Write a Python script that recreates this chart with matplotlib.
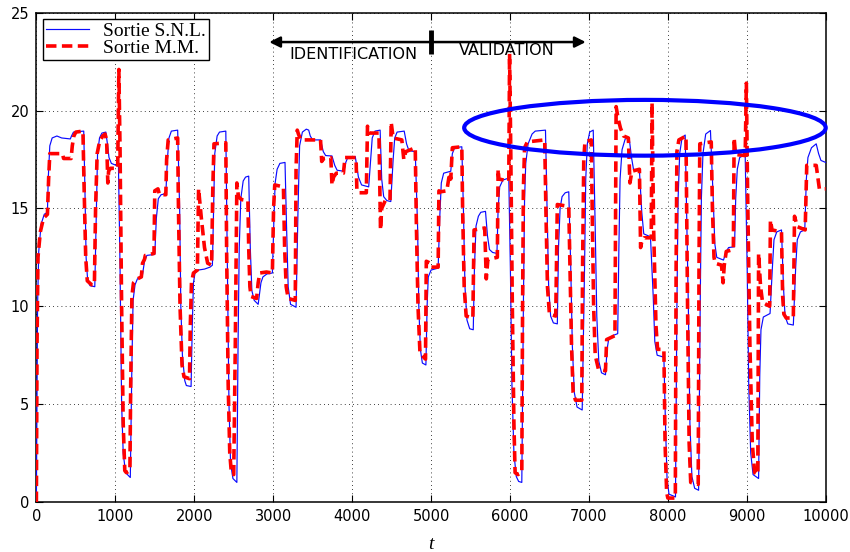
import matplotlib
matplotlib.use("Agg")
import matplotlib.pyplot as plt
from matplotlib.patches import Ellipse

# ---- data ----
snl_t = [0, 15, 30, 60, 100, 140, 150, 170, 200, 260, 320, 430, 445, 470, 600,
         615, 630, 650, 680, 740, 760, 775, 800, 830, 880, 900, 920, 950, 1040,
         1060, 1080, 1100, 1130, 1190, 1210, 1225, 1250, 1280, 1340, 1370, 1400, 1500,
         1520, 1545, 1580, 1640, 1660, 1680, 1710, 1790, 1815, 1830, 1850, 1880, 1900, 1960,
         1975, 1990, 2010, 2050, 2130, 2200, 2230, 2245, 2260, 2290, 2320, 2400,
         2420, 2440, 2460, 2490, 2540, 2555, 2570, 2590, 2620, 2650, 2690,
         2710, 2730, 2760, 2810, 2845, 2870, 2920, 2990, 3010, 3025, 3050, 3085, 3150,
         3170, 3190, 3220, 3290, 3315, 3335, 3370, 3420, 3450, 3470, 3500, 3600,
         3635, 3665, 3745, 3780, 3810, 3895, 3920, 3945, 4040, 4080, 4120, 4210,
         4235, 4255, 4290, 4355, 4375, 4400, 4440, 4490, 4520, 4540, 4570, 4660,
         4690, 4720, 4800, 4830, 4845, 4865, 4890, 4935, 4950, 4965, 5000, 5090,
         5110, 5130, 5160, 5250, 5270, 5300, 5390, 5410, 5430, 5455, 5490, 5535,
         5550, 5570, 5600, 5630, 5690, 5715, 5740, 5780, 5835, 5850, 5870, 5910, 5985,
         6005, 6025, 6050, 6080, 6110, 6150, 6170, 6185, 6200, 6230, 6280, 6320, 6450,
         6470, 6490, 6515, 6550, 6600, 6615, 6635, 6660, 6700, 6745,
         6770, 6790, 6815, 6850, 6915, 6945, 6960, 6980, 7010, 7055,
         7080, 7100, 7125, 7160, 7210, 7230, 7250, 7300, 7365,
         7380, 7395, 7420, 7460, 7510, 7540, 7565, 7640, 7670, 7695, 7780,
         7815, 7835, 7865, 7950, 7970, 7990, 8015, 8097, 8115, 8130, 8150, 8180, 8220,
         8260, 8280, 8305, 8340, 8390, 8410, 8425, 8445, 8480, 8540,
         8575, 8595, 8620, 8705, 8740, 8770, 8845, 8860, 8880, 8910, 8980,
         9005, 9025, 9050, 9080, 9150, 9165, 9180, 9210, 9295, 9325, 9345, 9380, 9440,
         9465, 9485, 9520, 9590, 9620, 9640, 9680, 9735, 9755, 9775, 9820, 9880,
         9910, 9940, 10000]
snl_y = [0, 10, 12.8, 14.2, 14.7, 14.8, 16.5, 18.2, 18.6, 18.7, 18.6, 18.55, 18.7, 18.9, 18.95,
         16, 12.5, 11.3, 11.05, 11.0, 15, 17.8, 18.6, 18.85, 18.9, 18.3, 17.6, 17.3, 17.15,
         12, 5, 2.5, 1.5, 1.25, 7, 10.3, 11.1, 11.4, 11.5, 12.3, 12.6, 12.65,
         14.5, 15.5, 15.7, 15.75, 17.5, 18.6, 18.95, 19.0, 15, 10, 7.5, 6.2, 5.95, 5.9,
         9, 11.2, 11.7, 11.85, 11.9, 12.0, 12.1, 15, 17.8, 18.7, 18.9, 18.95,
         12, 5, 2, 1.2, 1.0, 8, 13, 15.5, 16.4, 16.6, 16.65,
         13, 10.8, 10.3, 10.1, 11.2, 11.5, 11.65, 11.7, 14.5, 16.3, 17.0, 17.3, 17.35,
         14, 11, 10.1, 9.95, 15, 18.2, 18.9, 19.05, 19.0, 18.7, 18.5, 18.5,
         17.9, 17.7, 17.68, 17.2, 16.95, 16.9, 17.35, 17.6, 17.65, 16.6, 16.2, 16.1,
         17.5, 18.6, 18.95, 19.0, 16.5, 15.6, 15.4, 15.35, 17.5, 18.6, 18.9, 18.95,
         18.3, 17.95, 17.9, 14, 10, 7.8, 7.1, 7.0, 10, 11.5, 11.85, 11.95,
         14.5, 16.3, 16.8, 16.9, 17.8, 18.1, 18.15, 15, 11, 9.3, 8.85, 8.8,
         12, 14.1, 14.6, 14.8, 14.85, 13.6, 12.9, 12.75, 12.7, 15, 16.1, 16.45, 16.55,
         12, 6, 2.5, 1.3, 1.05, 1.0, 10, 15.5, 17.3, 18.3, 18.8, 18.95, 19.0,
         15, 11, 9.5, 9.15, 9.1, 13, 15.0, 15.6, 15.8, 15.85,
         12, 8, 5.6, 4.85, 4.7, 12, 16.5, 18.3, 18.9, 19.0,
         14, 9.5, 7.2, 6.6, 6.5, 7.8, 8.3, 8.5, 8.6,
         13, 16.5, 18.0, 18.55, 18.6, 17.6, 17.0, 16.95, 14.8, 13.7, 13.55,
         10.5, 8.2, 7.5, 7.4, 4, 1.2, 0.4, 0.26, 10, 15.5, 17.8, 18.6, 18.75,
         10, 4, 1.3, 0.7, 0.6, 10, 15.5, 17.8, 18.8, 18.98,
         15.5, 13.2, 12.5, 12.36, 12.8, 13.0, 13.04, 15.5, 17.0, 17.6, 17.75,
         12, 6, 2.5, 1.4, 1.2, 6.5, 8.8, 9.45, 9.63, 12.0, 13.4, 13.8, 13.9,
         11.0, 9.5, 9.1, 9.04, 12.0, 13.4, 13.8, 13.9, 16.5, 17.6, 18.1, 18.3,
         17.8, 17.45, 17.35]

mm_t = [0, 8, 20, 50, 90, 140, 155, 170, 250, 330, 345, 440, 455, 475, 500, 590,
        605, 625, 645, 700, 735, 750, 770, 800, 840, 870, 890, 905, 915, 940, 1030,
        1045, 1060, 1080, 1100, 1120, 1140, 1185, 1195, 1210, 1230, 1280, 1330,
        1345, 1370, 1380, 1490, 1500, 1540, 1560, 1640, 1650, 1670, 1790,
        1800, 1820, 1845, 1870, 1940, 1950, 1965, 1990, 2040,
        2055, 2090, 2130, 2170, 2220, 2235, 2250, 2400,
        2410, 2430, 2450, 2470, 2500, 2520, 2540, 2560, 2600, 2680,
        2690, 2705, 2720, 2790, 2810, 2830, 2915, 2990, 3005, 3020, 3130,
        3145, 3165, 3190, 3280, 3290, 3305, 3320, 3350, 3600,
        3615, 3640, 3730, 3745, 3765, 3800, 3890, 3910, 4050, 4060, 4080, 4180,
        4195, 4215, 4340, 4360, 4375, 4420, 4480, 4495, 4520, 4630,
        4655, 4680, 4800, 4815, 4835, 4860, 4930, 4940, 4990, 5000, 5090,
        5100, 5120, 5200, 5235, 5250, 5270, 5390, 5400, 5420, 5445, 5530,
        5545, 5680, 5700, 5720, 5840, 5850, 5860, 5985,
        5995, 6010, 6030, 6050, 6065, 6100, 6150, 6160, 6170, 6185, 6220, 6440,
        6455, 6475, 6500, 6580, 6600, 6745, 6760, 6780, 6800, 6830, 6910,
        6920, 6935, 6950, 7030, 7045, 7060, 7080, 7120, 7210, 7225, 7330,
        7345, 7370, 7400, 7440, 7500, 7520, 7545, 7640, 7655, 7670, 7700, 7790,
        7800, 7820, 7850, 7870, 7950, 7965, 7985, 8000, 8095, 8105, 8115, 8140, 8230,
        8250, 8270, 8290, 8385, 8395, 8405, 8550, 8565, 8585, 8600, 8680, 8700, 8715,
        8740, 8830, 8840, 8855, 8870, 8980, 8995, 9010, 9040, 9070, 9100, 9140,
        9150, 9175, 9200, 9290, 9300, 9320, 9440, 9455, 9470, 9500, 9590,
        9605, 9640, 9740, 9760, 9775, 9880, 9920, 9940, 10000]
mm_y = [0, 8, 12.5, 13.8, 14.5, 14.7, 16.5, 17.8, 17.8, 17.8, 17.55, 17.55, 18.2, 18.7, 18.9, 18.95,
        16, 12.5, 11.3, 11.1, 11.1, 15, 17.8, 18.4, 18.7, 18.8, 18.5, 16.3, 16.9, 17.05, 17.05,
        22.1, 18, 10, 4, 1.6, 1.5, 1.6, 6, 10.5, 11.2, 11.4, 11.5,
        12.2, 12.4, 12.6, 12.7, 15.9, 16.0, 15.7, 15.7, 17.5, 18.5, 18.6,
        15, 10, 7, 6.4, 6.3, 9, 11.2, 11.7, 11.85,
        16.0, 14.5, 13.0, 12.2, 12.1, 16, 18.3, 18.35,
        13, 6, 2.5, 1.5, 1.4, 8, 16.3, 15.6, 15.45, 15.4,
        13, 11, 10.5, 10.4, 11.2, 11.7, 11.75, 11.7, 15, 16.2, 16.1,
        13, 11, 10.4, 10.3, 17, 19.0, 18.8, 18.5, 18.5,
        17.4, 17.55, 17.6, 16.2, 16.6, 16.8, 16.8, 17.6, 17.6, 16.0, 15.8, 15.8,
        19.2, 18.85, 18.85, 13.9, 15.0, 15.4, 15.4, 19.4, 18.6, 18.5,
        17.5, 17.9, 18.1, 14, 10, 7.6, 7.3, 12.3, 12.2, 12.0, 12.0,
        15.9, 15.85, 15.9, 16.8, 16.5, 18.1, 18.15, 15, 11, 9.5, 9.4,
        13.9, 14.0, 11.4, 12.4, 12.5, 17.0, 16.5, 16.4,
        22.9, 18, 10, 4, 1.5, 1.4, 1.5, 10, 16, 18.1, 18.4, 18.5,
        15, 11, 9.6, 9.5, 15.2, 15.1, 12, 8, 5.6, 5.2, 5.2,
        12, 17.5, 18.4, 18.5, 14, 10, 7.5, 6.8, 6.7, 8.3, 8.5,
        20.2, 19.6, 19.1, 18.7, 18.6, 16.3, 16.9, 17.0, 13.0, 13.3, 13.5, 13.5,
        20.4, 14, 9, 7.8, 7.8, 3, 0.5, 0.2, 0.2, 12, 17.9, 18.5, 18.7,
        10, 3, 1.0, 0.9, 12, 18.3, 18.4, 15, 12.5, 12.2, 12.1, 11.2, 12.1,
        12.8, 12.9, 18.6, 17.9, 17.75, 17.7, 21.4, 16, 8, 3, 1.5, 1.4,
        12.7, 11, 10.2, 10.0, 14.4, 13.9, 13.8, 10.5, 9.6, 9.4, 9.4,
        14.6, 14.07, 13.9, 17.2, 17.2, 17.2, 16.0, 16.0, 16.0]

x_ticks = [0, 1000, 2000, 3000, 4000, 5000, 6000, 7000, 8000, 9000, 10000]
y_ticks = [0, 5, 10, 15, 20, 25]

# ---- figure ----
fig = plt.figure(figsize=(8.5, 5.52), dpi=100)
ax = fig.add_axes([0.0428, 0.0906, 0.9286, 0.8864])

ax.plot(snl_t, snl_y, color='#0a0aff', lw=0.85, label='Sortie S.N.L.', zorder=3)
ax.plot(mm_t, mm_y, color='#ff0000', lw=2.6, dashes=(2.9, 1.5),
        label='Sortie M.M.', zorder=4)

ax.set_xlim(0, 10000)
ax.set_ylim(0, 25)
ax.set_xticks(x_ticks)
ax.set_yticks(y_ticks)
ax.set_xticklabels([str(v) for v in x_ticks], fontfamily='DejaVu Sans', fontsize=10.5)
ax.set_yticklabels([str(v) for v in y_ticks], fontfamily='DejaVu Sans', fontsize=10.5)
ax.tick_params(direction='in', length=5, width=0.8, top=True, right=True, pad=5)
ax.grid(True, color='k', linestyle=(0, (1, 4)), lw=0.6)
for s in ax.spines.values():
    s.set_linewidth(1.1)

ax.set_xlabel('t', fontfamily='Liberation Serif', style='italic', fontsize=14, labelpad=9)

leg = ax.legend(loc='upper left', bbox_to_anchor=(0.0084, 0.987), borderaxespad=0,
                fancybox=False, edgecolor='k', framealpha=1,
                prop={'family': 'Liberation Serif', 'size': 14},
                handlelength=2.2, handletextpad=0.75, borderpad=0.15, labelspacing=0.0)
leg.get_frame().set_linewidth(1.0)

# identification / validation arrow
ax.annotate('', xy=(2950, 23.5), xytext=(6960, 23.5),
            arrowprops=dict(arrowstyle='<|-|>', color='k', lw=1.8,
                            mutation_scale=16, shrinkA=0, shrinkB=0))
ax.plot([5000, 5000], [22.9, 24.1], color='k', lw=3.5, solid_capstyle='butt')
ax.text(4020, 22.85, 'IDENTIFICATION', ha='center', va='center',
        fontfamily='DejaVu Sans', fontsize=11.5)
ax.text(5960, 23.07, 'VALIDATION', ha='center', va='center',
        fontfamily='DejaVu Sans', fontsize=11.5)

ax.add_patch(Ellipse((7710, 19.12), 4580, 2.85, fill=False, edgecolor='#0000ff',
                     lw=3, zorder=5, clip_on=False))

fig.savefig('out.png', dpi=100)
